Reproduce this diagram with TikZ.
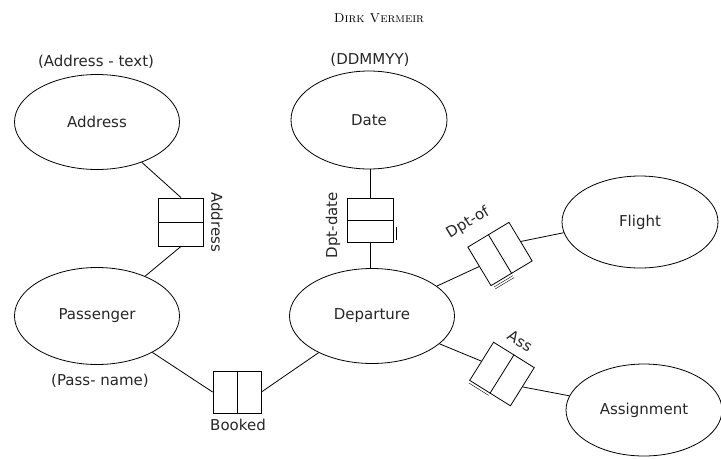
\documentclass[tikz,border=0pt]{standalone}
\usepackage{fontspec}
\setsansfont{DejaVu Sans}
\usetikzlibrary{shapes.geometric,calc}
\newcommand\lblfont{\sffamily\fontsize{15}{17}\selectfont}
\newcommand\cardmark[4]{% node, offset, t1, t2
  \draw[thin] ($(#1.south west)!#3!(#1.south east) + #2*(#1.south west) - #2*(#1.north west)$) --
              ($(#1.south west)!#4!(#1.south east) + #2*(#1.south west) - #2*(#1.north west)$);}
\begin{document}
\begin{tikzpicture}[x=1pt,y=-1pt,
  ent/.style={ellipse, draw, line width=0.8pt, inner sep=0pt, font=\lblfont, text=black!85},
  relbox/.style={rectangle, draw, line width=0.8pt, minimum width=48pt, minimum height=45pt, inner sep=0pt},
  lbl/.style={font=\lblfont, text=black!85, inner sep=1pt},
  conn/.style={line width=0.8pt}]
\useasboundingbox (0,0) rectangle (721,459);
% title
\node (title) at (379,18) {\fontsize{13}{15}\selectfont\textsc{Dirk Vermeir}};
% entities
\node[ent, minimum width=165pt, minimum height=95pt] (address) at (97,122) {Address};
\node[ent, minimum width=156pt, minimum height=98pt] (date) at (369,120) {Date};
\node[ent, minimum width=156pt, minimum height=92pt] (flight) at (640,222) {Flight};
\node[ent, minimum width=165pt, minimum height=97pt] (passenger) at (97,316) {Passenger};
\node[ent, minimum width=165pt, minimum height=95pt] (departure) at (372,316) {Departure};
\node[ent, minimum width=156pt, minimum height=92pt] (assignment) at (644,410) {Assignment};
% attribute labels
\node[lbl] (addrtext) at (96,62) {(Address - text)};
\node[lbl] (ddmmyy) at (370,60) {(DDMMYY)};
\node[lbl] (passname) at (100,381) {(Pass- name)};
% relationship boxes
\node[relbox, rotate=90] (addrbox) at (181,222) {};
\node[relbox, rotate=90, minimum width=44pt, minimum height=46pt] (datebox) at (370,220) {};
\node[relbox, rotate=31] (dptof) at (500,254) {};
\node[relbox, rotate=-32] (ass) at (502,374) {};
\node[relbox, minimum height=42pt] (booked) at (237,392) {};
\foreach \b in {addrbox,datebox,dptof,ass,booked}{\draw[conn] (\b.north) -- (\b.south);}
% cardinality marks
\cardmark{datebox}{0.07}{0.05}{0.35}
\cardmark{dptof}{0.05}{0.05}{0.5}
\cardmark{dptof}{0.1}{0.05}{0.5}
\cardmark{ass}{0.05}{0.02}{0.5}
% relationship labels
\node[lbl, rotate=-90] (laddr) at (217,222) {Address};
\node[lbl, rotate=90] (ldate) at (333,225) {Dpt-date};
\node[lbl, rotate=31] (ldptof) at (468,223) {Dpt-of};
\node[lbl, rotate=-32] (lass) at (520,341) {Ass};
\node[lbl] (lbooked) at (238,425) {Booked};
% connectors
\draw[conn] (address) -- (addrbox.east);
\draw[conn] (addrbox.west) -- (passenger);
\draw[conn] (datebox.east) -- (datebox.east |- date.south);
\draw[conn] (datebox.west) -- (datebox.west |- departure.north);
\draw[conn] (departure) -- (dptof.west);
\draw[conn] (dptof.east) -- (flight.188);
\draw[conn] (departure) -- (ass.west);
\draw[conn] (ass.east) -- (assignment);
\draw[conn] (passenger) -- (booked.west);
\draw[conn] (booked.east) -- (departure);
\end{tikzpicture}
\end{document}
